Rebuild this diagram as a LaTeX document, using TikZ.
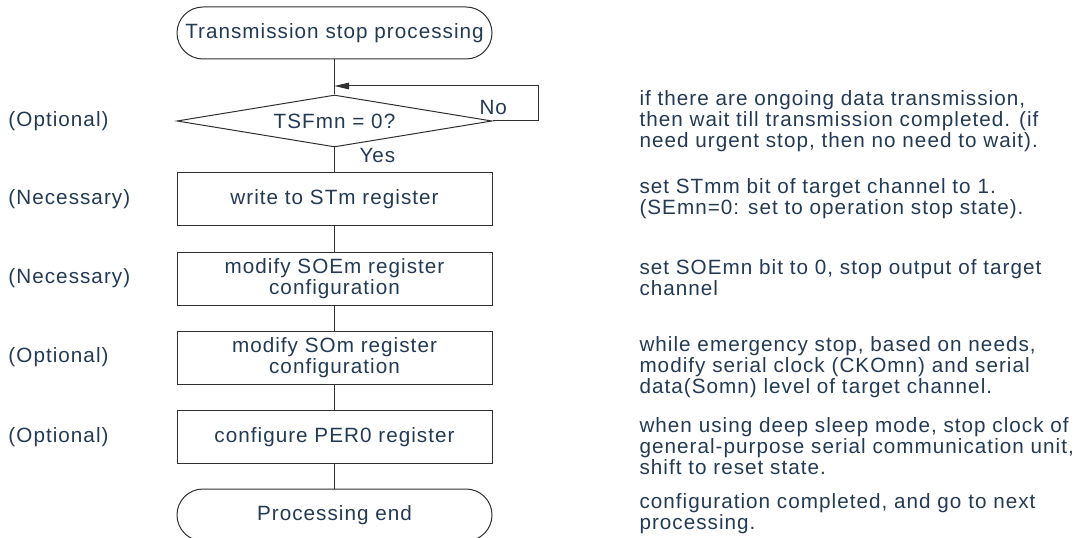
\documentclass[tikz,border=0pt]{standalone}
\usepackage{fontspec}
\setmainfont{Liberation Sans}[LetterSpace=5]
\usepackage{tikz}
\usetikzlibrary{arrows.meta,shapes.geometric}
\definecolor{ink}{HTML}{233A55}
\definecolor{edge}{HTML}{303030}

\tikzset{
  stepbox/.style={draw=edge,rectangle,minimum width=236.25pt,minimum height=39.75pt,inner sep=0pt,align=center,text=ink},
  termbox/.style={draw=edge,rectangle,rounded corners=19.5pt,minimum width=236.25pt,minimum height=39pt,inner sep=0pt,text=ink},
  testbox/.style={draw=edge,diamond,aspect=6,minimum width=236.25pt,minimum height=39pt,inner sep=0pt,text=ink},
  tag/.style={anchor=west,inner sep=0pt,text=ink},
  note/.style={anchor=west,inner sep=0pt,align=left,text=ink},
  flow/.style={draw=edge,line width=0.75pt}
}

\begin{document}
\begin{tikzpicture}[x=0.75pt,y=-0.75pt,line width=0.75pt,font=\fontsize{15.5pt}{15.75pt}\selectfont]
  \useasboundingbox (0,0) rectangle (1084,538);
  % flow column
  \node[termbox] (start) at (334.5,33) {Transmission stop processing};
  \node[testbox] (test) at (334.5,121) {TSFmn = 0?};
  \node[stepbox] (stopreg) at (334.5,199.5) {write to STm register};
  \node[stepbox] (soereg) at (334.5,278.5) {modify SOEm register\\configuration};
  \node[stepbox] (soreg) at (334.5,357.5) {modify SOm register\\configuration};
  \node[stepbox] (perreg) at (334.5,437) {configure PER0 register};
  \node[termbox] (finish) at (334.5,515) {Processing end};
  \coordinate (looptop) at (538,86);
  \coordinate (join) at (334.5,86);

  \draw[flow] (start) -- (test);
  \draw[flow,-{Triangle[length=11pt,width=5pt]}] (test.east) -| (looptop) -- (join);
  \draw[flow] (test) -- (stopreg);
  \draw[flow] (stopreg) -- (soereg);
  \draw[flow] (soereg) -- (soreg);
  \draw[flow] (soreg) -- (perreg);
  \draw[flow] (perreg) -- (finish);
  \node[tag] (no) at (479,107) {No};
  \node[tag] (yes) at (359,155) {Yes};

  % left column
  \node[tag] (opt1) at (8,121) {(Optional)};
  \node[tag] (nec1) at (8,199.5) {(Necessary)};
  \node[tag] (nec2) at (8,278.5) {(Necessary)};
  \node[tag] (opt2) at (8,357.5) {(Optional)};
  \node[tag] (opt3) at (8,437) {(Optional)};

  % right column
  \node[note] (n1) at (639,121) {if there are ongoing data transmission,\\then wait till transmission completed. (if\\need urgent stop, then no need to wait).};
  \node[note] (n2) at (639,198.5) {set STmm bit of target channel to 1.\\(SEmn=0: set to operation stop state).};
  \node[note] (n3) at (639,278) {set SOEmn bit to 0, stop output of target\\channel};
  \node[note] (n4) at (639,367) {while emergency stop, based on needs,\\modify serial clock (CKOmn) and serial\\data(Somn) level of target channel.};
  \node[note] (n5) at (639,446) {when using deep sleep mode, stop clock of\\general-purpose serial communication unit,\\shift to reset state.};
  \node[note] (n6) at (639,513.5) {configuration completed, and go to next\\processing.};
\end{tikzpicture}
\end{document}
